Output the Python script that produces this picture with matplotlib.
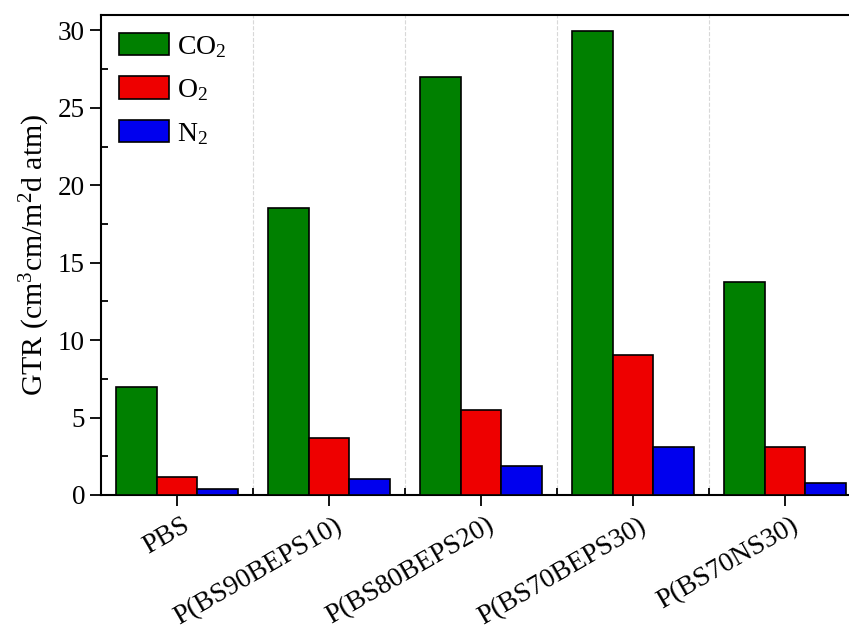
import matplotlib
matplotlib.use("Agg")
import matplotlib.pyplot as plt
import matplotlib.transforms as mtransforms
import numpy as np
from matplotlib.ticker import MultipleLocator, FixedLocator

plt.rcParams['font.family'] = ['Liberation Serif', 'DejaVu Serif']
plt.rcParams['mathtext.fontset'] = 'custom'
plt.rcParams['mathtext.rm'] = 'Liberation Serif'
plt.rcParams['mathtext.it'] = 'Liberation Serif:italic'
plt.rcParams['mathtext.bf'] = 'Liberation Serif:bold'

categories = ["PBS", "P(BS90BEPS10)", "P(BS80BEPS20)", "P(BS70BEPS30)", "P(BS70NS30)"]
co2 = [6.95, 18.55, 27.0, 29.97, 13.78]
o2 = [1.15, 3.65, 5.48, 9.04, 3.07]
n2 = [0.37, 1.05, 1.88, 3.08, 0.79]
series_labels = ["CO$_2$", "O$_2$", "N$_2$"]
colors = ["#008000", "#EE0000", "#0000EE"]

fig = plt.figure(figsize=(8.49, 6.25), dpi=100)
ax = fig.add_axes([101/849, 130/625, 760/849, 480/625])

x = np.arange(len(categories))
w = 0.267
for i, (vals, lab, col) in enumerate(zip([co2, o2, n2], series_labels, colors)):
    ax.bar(x + (i - 1) * w, vals, width=w, color=col, edgecolor='black',
           linewidth=1.2, label=lab, zorder=3)

ax.set_xlim(-0.5, len(categories) - 0.5)
ax.set_ylim(0, 31)
ax.yaxis.set_major_locator(MultipleLocator(5))
ax.yaxis.set_minor_locator(MultipleLocator(2.5))
ax.set_xticks(x)
ax.set_xticklabels(categories, rotation=30, ha='right', va='top',
                   rotation_mode='anchor', fontsize=20)
ax.xaxis.set_minor_locator(FixedLocator(x[:-1] + 0.5))
ax.grid(which='minor', axis='x', linestyle='--', color='#d8d8d8', linewidth=0.8, zorder=0)

ax.tick_params(axis='both', which='major', direction='out', length=8, width=1.3, labelsize=19.5)
ax.tick_params(axis='x', which='major', pad=5, labelsize=20)
ax.tick_params(axis='both', which='minor', direction='in', length=5, width=1.3)
for s in ax.spines.values():
    s.set_linewidth(1.5)

offset = mtransforms.ScaledTranslation(5/100, 0, fig.dpi_scale_trans)
for lbl in ax.get_xticklabels():
    lbl.set_transform(lbl.get_transform() + offset)

ax.set_ylabel("GTR (cm$^3$cm/m$^2$d atm)", fontsize=21.5, labelpad=4)

leg = ax.legend(loc='upper left', bbox_to_anchor=(0.0237, 0.9625), frameon=False,
                fontsize=20, handlelength=1.8, handleheight=0.86,
                handletextpad=0.3, labelspacing=0.6, borderaxespad=0, borderpad=0)

fig.savefig("out.png", dpi=100)
